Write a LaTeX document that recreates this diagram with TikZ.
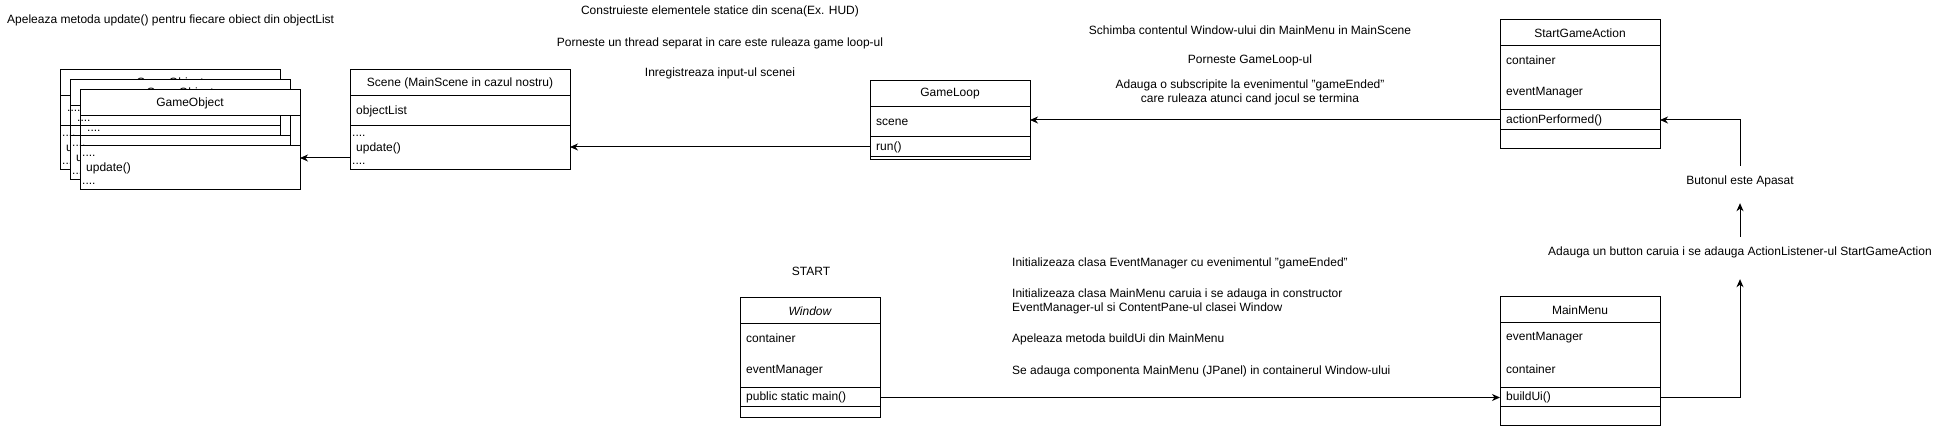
\documentclass[tikz,border=0pt]{standalone}
\usepackage{fontspec}
\setmainfont{Liberation Sans}
\usetikzlibrary{arrows.meta}

\begin{document}
\begin{tikzpicture}[x=1pt,y=-1pt,
	cell/.style={draw,line width=1pt,inner sep=0pt,outer sep=0pt,anchor=north west,font=\fontsize{12}{14}\selectfont},
	txt/.style={inner sep=0pt,font=\fontsize{12}{14}\selectfont},
	arr/.style={line width=1pt,-{Stealth[length=8pt,width=7pt,inset=2.5pt]}}]
	\useasboundingbox (0,0) rectangle (1941,435);

	% stiva de GameObject
	\node[txt,anchor=west] (lbl-upd) at (7,20) {Apeleaza metoda update() pentru fiecare obiect din objectList};
	\foreach \d in {0,10,20}{
		\node[cell,fill=white,minimum width=220pt,minimum height=26pt] (go\d) at (60+\d,70+\d) {GameObject};
		\node[cell,minimum width=220pt,minimum height=30pt] (go\d-a) at (go\d.south west) {};
		\node[cell,fill=white,minimum width=220pt,minimum height=44pt] (go\d-m) at (go\d-a.south west) {};
		\node[txt,anchor=base west] (go\d-t1) at (67+\d,112+\d) {....};
		\node[txt,anchor=base west] (go\d-t2) at (62+\d,137+\d) {....};
		\node[txt,anchor=base west] (go\d-t3) at (66+\d,152+\d) {update()};
		\node[txt,anchor=base west] (go\d-t4) at (62+\d,165+\d) {....};
	}

	% Scene
	\node[cell,minimum width=220pt,minimum height=26pt] (sc) at (350,70) {Scene (MainScene in cazul nostru)};
	\node[cell,minimum width=220pt,minimum height=30pt] (sc-a) at (sc.south west) {};
	\node[cell,minimum width=220pt,minimum height=44pt] (sc-m) at (sc-a.south west) {};
	\node[txt,anchor=west] (sc-t1) at (356,111) {objectList};
	\node[txt,anchor=base west] (sc-t2) at (352,137) {....};
	\node[txt,anchor=base west] (sc-t3) at (356,152) {update()};
	\node[txt,anchor=base west] (sc-t4) at (352,165) {....};

	\node[txt] (lbl-hud) at (720,11) {Construieste elementele statice din scena(Ex. HUD)};
	\node[txt] (lbl-thr) at (720,43) {Porneste un thread separat in care este ruleaza game loop-ul};
	\node[txt] (lbl-inp) at (720,73) {Inregistreaza input-ul scenei};

	% GameLoop
	\node[cell,minimum width=160pt,minimum height=26pt] (gl) at (870,81) {GameLoop};
	\node[cell,minimum width=160pt,minimum height=30pt] (gl-a) at (gl.south west) {};
	\node[cell,minimum width=160pt,minimum height=20pt] (gl-r) at (gl-a.south west) {};
	\node[cell,minimum width=160pt,minimum height=2.5pt] (gl-x) at (gl-r.south west) {};
	\node[txt,anchor=west] (gl-t1) at (876,122) {scene};
	\node[txt,anchor=west] (gl-t2) at (876,147) {run()};

	\node[txt] (lbl-cnt) at (1250,30) {Schimba contentul Window-ului din MainMenu in MainScene};
	\node[txt] (lbl-gls) at (1250,60) {Porneste GameLoop-ul};
	\node[txt,align=center] (lbl-sub) at (1250,92) {Adauga o subscripite la evenimentul "gameEnded"\\care ruleaza atunci cand jocul se termina};

	% StartGameAction
	\node[cell,minimum width=160pt,minimum height=26pt] (sga) at (1500,20) {StartGameAction};
	\node[cell,minimum width=160pt,minimum height=64pt] (sga-a) at (sga.south west) {};
	\node[cell,minimum width=160pt,minimum height=20pt] (sga-m) at (sga-a.south west) {};
	\node[cell,minimum width=160pt,minimum height=19pt] (sga-x) at (sga-m.south west) {};
	\node[txt,anchor=west] (sga-t1) at (1506,60) {container};
	\node[txt,anchor=west] (sga-t2) at (1506,93) {eventManager};
	\node[txt,anchor=west] (sga-t3) at (1506,120) {actionPerformed()};

	% Window
	\node[txt] (lbl-start) at (811,271) {START};
	\node[cell,minimum width=140pt,minimum height=26pt,font=\fontsize{12}{14}\selectfont\itshape] (win) at (740,298) {Window};
	\node[cell,minimum width=140pt,minimum height=64pt] (win-a) at (win.south west) {};
	\node[cell,minimum width=140pt,minimum height=19pt] (win-m) at (win-a.south west) {};
	\node[cell,minimum width=140pt,minimum height=10pt] (win-x) at (win-m.south west) {};
	\node[txt,anchor=west] (win-t1) at (746,338) {container};
	\node[txt,anchor=west] (win-t2) at (746,371) {eventManager};
	\node[txt,anchor=west] (win-t3) at (746,397.5) {public static main()};

	\node[txt,anchor=west] (lbl-evm) at (1012,263) {Initializeaza clasa EventManager cu evenimentul "gameEnded"};
	\node[txt,anchor=west,align=left] (lbl-mmi) at (1012,301) {Initializeaza clasa MainMenu caruia i se adauga in constructor\\EventManager-ul si ContentPane-ul clasei Window};
	\node[txt,anchor=west] (lbl-bui) at (1012,339) {Apeleaza metoda buildUi din MainMenu};
	\node[txt,anchor=west] (lbl-add) at (1012,371) {Se adauga componenta MainMenu (JPanel) in containerul Window-ului};

	% MainMenu
	\node[cell,minimum width=160pt,minimum height=26pt] (mm) at (1500,297) {MainMenu};
	\node[cell,minimum width=160pt,minimum height=65pt] (mm-a) at (mm.south west) {};
	\node[cell,minimum width=160pt,minimum height=19pt] (mm-m) at (mm-a.south west) {};
	\node[cell,minimum width=160pt,minimum height=18pt] (mm-x) at (mm-m.south west) {};
	\node[txt,anchor=west] (mm-t1) at (1506,338) {eventManager};
	\node[txt,anchor=west] (mm-t2) at (1506,369) {container};
	\node[txt,anchor=west] (mm-t3) at (1506,397.5) {buildUi()};

	\node[txt,minimum height=30pt] (lbl-btn) at (1740,181) {Butonul este Apasat};
	\node[txt,minimum height=30pt] (lbl-lst) at (1740,252) {Adauga un button caruia i se adauga ActionListener-ul StartGameAction};

	% sageti
	\coordinate (sc-out) at (350,158);
	\draw[arr] (sga-m.west) -- (sga-m.west -| gl.east);
	\draw[arr] (gl-r.west) -- (gl-r.west -| sc.east);
	\draw[arr] (sc-out) -- (sc-out -| go20.east);
	\draw[arr] (win-m.east) -- (win-m.east -| mm.west);
	\draw[arr,shorten >=12pt] (mm-m.east) -| (lbl-lst.south);
	\draw[arr,shorten >=7pt] (lbl-lst.north) -- (lbl-btn.south);
	\draw[arr] (lbl-btn.north) |- (sga-m.east);
\end{tikzpicture}
\end{document}
